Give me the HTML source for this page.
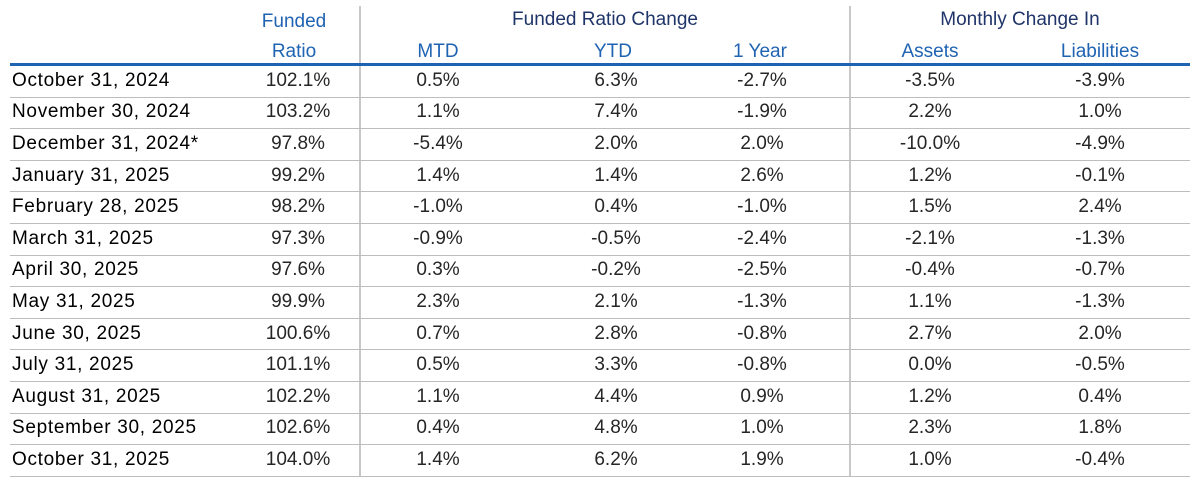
<!DOCTYPE html>
<html><head><meta charset="utf-8"><style>
body{margin:0;width:1200px;height:481px;background:#fff;position:relative;overflow:hidden;font-family:"Liberation Sans",sans-serif;}
.t{position:absolute;white-space:nowrap;font-size:19px;line-height:20px;transform:translate(-50%,-50%);color:#262626;}
.l{transform:translate(0,-50%);color:#000;letter-spacing:0.7px}
.h{color:#1f63b3}.d{color:#1f3468}
.hl{position:absolute;left:10px;width:1180px;height:1px;background:#bdbdbd}
.vl{position:absolute;top:6px;height:470px;width:2px;background:#c8c8c8}
</style></head><body>
<div class="vl" style="left:359px"></div><div class="vl" style="left:849px"></div>
<div style="position:absolute;left:10px;top:63px;width:1180px;height:3px;background:#1f63b3"></div>
<div class="t h" style="left:294px;top:22px">Funded</div>
<div class="t h" style="left:294px;top:52px">Ratio</div>
<div class="t d" style="left:605px;top:20px">Funded Ratio Change</div>
<div class="t d" style="left:1020px;top:20px">Monthly Change In</div>
<div class="t h" style="left:438px;top:52px">MTD</div>
<div class="t h" style="left:613px;top:52px">YTD</div>
<div class="t h" style="left:760px;top:52px">1 Year</div>
<div class="t h" style="left:930px;top:52px">Assets</div>
<div class="t h" style="left:1100px;top:52px">Liabilities</div>
<div id="rows"></div>
<script>
var d=[["October 31, 2024","102.1%","0.5%","6.3%","-2.7%","-3.5%","-3.9%"],
["November 30, 2024","103.2%","1.1%","7.4%","-1.9%","2.2%","1.0%"],
["December 31, 2024*","97.8%","-5.4%","2.0%","2.0%","-10.0%","-4.9%"],
["January 31, 2025","99.2%","1.4%","1.4%","2.6%","1.2%","-0.1%"],
["February 28, 2025","98.2%","-1.0%","0.4%","-1.0%","1.5%","2.4%"],
["March 31, 2025","97.3%","-0.9%","-0.5%","-2.4%","-2.1%","-1.3%"],
["April 30, 2025","97.6%","0.3%","-0.2%","-2.5%","-0.4%","-0.7%"],
["May 31, 2025","99.9%","2.3%","2.1%","-1.3%","1.1%","-1.3%"],
["June 30, 2025","100.6%","0.7%","2.8%","-0.8%","2.7%","2.0%"],
["July 31, 2025","101.1%","0.5%","3.3%","-0.8%","0.0%","-0.5%"],
["August 31, 2025","102.2%","1.1%","4.4%","0.9%","1.2%","0.4%"],
["September 30, 2025","102.6%","0.4%","4.8%","1.0%","2.3%","1.8%"],
["October 31, 2025","104.0%","1.4%","6.2%","1.9%","1.0%","-0.4%"]];
var xs=[0,298,438,616,762,930,1100],h="",p=31.6;
for(var i=0;i<d.length;i++){var y=65+p*i+p/2;
h+='<div class="t l" style="left:12px;top:'+y+'px">'+d[i][0]+'</div>';
for(var j=1;j<7;j++)h+='<div class="t" style="left:'+xs[j]+'px;top:'+y+'px">'+d[i][j]+'</div>';
h+='<div class="hl" style="top:'+Math.round(65+p*(i+1))+'px"></div>';}
document.getElementById('rows').innerHTML=h;
</script>
</body></html>
